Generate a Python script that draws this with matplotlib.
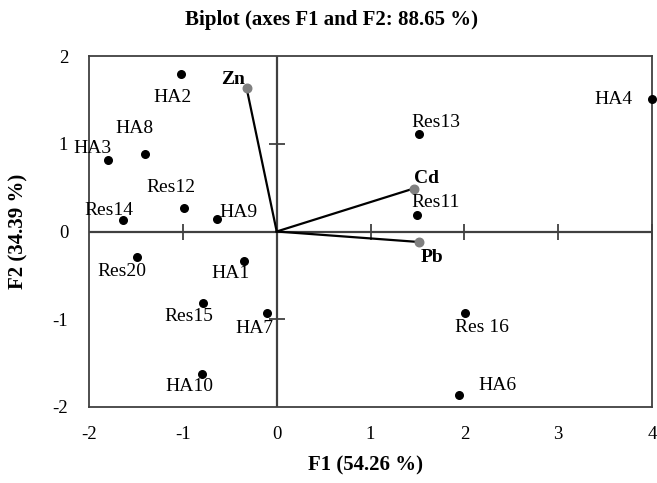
import matplotlib
matplotlib.use('Agg')
import matplotlib.pyplot as plt

# observations (F1, F2)
obs_names = ['HA2', 'HA8', 'HA3', 'Res12', 'Res14', 'HA9', 'HA4', 'Res13', 'Res11',
             'Res20', 'HA1', 'Res15', 'HA7', 'HA10', 'Res 16', 'HA6']
obs_f1 = [-1.02, -1.40, -1.80, -0.99, -1.64, -0.64, 4.00, 1.52, 1.50,
          -1.49, -0.35, -0.79, -0.10, -0.80, 2.01, 1.94]
obs_f2 = [1.79, 0.88, 0.81, 0.27, 0.13, 0.14, 1.51, 1.11, 0.19,
          -0.29, -0.34, -0.81, -0.93, -1.62, -0.93, -1.86]
# label offsets in pixels (dx, dy up)
obs_off = [(-8, -23), (-11, 26), (-15, 12), (-13, 20), (-14, 10), (22, 7), (-39, 0), (17, 12), (18, 12),
           (-15, -15), (-13, -12), (-14, -14), (-13, -15), (-12, -13), (17, -14), (39, 9)]

# variables (loadings)
var_names = ['Zn', 'Cd', 'Pb']
var_f1 = [-0.32, 1.46, 1.52]
var_f2 = [1.63, 0.49, -0.12]
var_off = [(-14, 9), (13, 10), (13, -15)]

xticks = [-2, -1, 0, 1, 2, 3, 4]
yticks = [-2, -1, 0, 1, 2]

plt.rcParams['font.family'] = ['Liberation Serif', 'DejaVu Serif']
plt.rcParams['axes.unicode_minus'] = False

fig = plt.figure(figsize=(6.57, 4.83), dpi=100)
ax = fig.add_axes([0.1355, 0.1574, 0.857, 0.7266])
ax.set_xlim(-2, 4)
ax.set_ylim(-2, 2)

axcol = '#404040'
for s in ax.spines.values():
    s.set_color(axcol)
    s.set_linewidth(1.3)

ax.axhline(0, color=axcol, lw=1.6, zorder=1)
ax.axvline(0, color=axcol, lw=1.6, zorder=1)
# cross ticks on the centre axes
for t in xticks[1:-1]:
    if t != 0:
        ax.plot(t, 0, marker='|', ms=11, mew=1.3, color=axcol, zorder=1)
for t in yticks[1:-1]:
    if t != 0:
        ax.plot(0, t, marker='_', ms=11, mew=1.3, color=axcol, zorder=1)
ax.plot(4, 0, marker='|', ms=11, mew=1.3, color=axcol, zorder=1, clip_on=False)

ax.set_xticks(xticks)
ax.set_yticks(yticks)
ax.tick_params(length=0, labelsize=13.5, pad=14)
ax.tick_params(axis='y', pad=15)

# vectors
for i in range(len(var_names)):
    ax.plot([0, var_f1[i]], [0, var_f2[i]], color='black', lw=1.6, zorder=2)
ax.scatter(var_f1, var_f2, s=38, color='#808080', zorder=3)
for i, n in enumerate(var_names):
    ax.annotate(n, (var_f1[i], var_f2[i]), xytext=var_off[i], textcoords='offset pixels',
                ha='center', va='center', fontsize=14, fontweight='bold')

ax.scatter(obs_f1, obs_f2, s=30, color='black', zorder=3, clip_on=False)
for i, n in enumerate(obs_names):
    ax.annotate(n, (obs_f1[i], obs_f2[i]), xytext=obs_off[i], textcoords='offset pixels',
                ha='center', va='center', fontsize=14)

fig.text(0.5046, 0.958, 'Biplot (axes F1 and F2: 88.65 %)', ha='center', va='center',
         fontsize=15, fontweight='bold')
fig.text(0.557, 0.037, 'F1 (54.26 %)', ha='center', va='center', fontsize=15, fontweight='bold')
fig.text(0.028, 0.52, 'F2 (34.39 %)', ha='center', va='center', rotation=90,
         fontsize=15, fontweight='bold')

fig.savefig('out.png', dpi=100)
